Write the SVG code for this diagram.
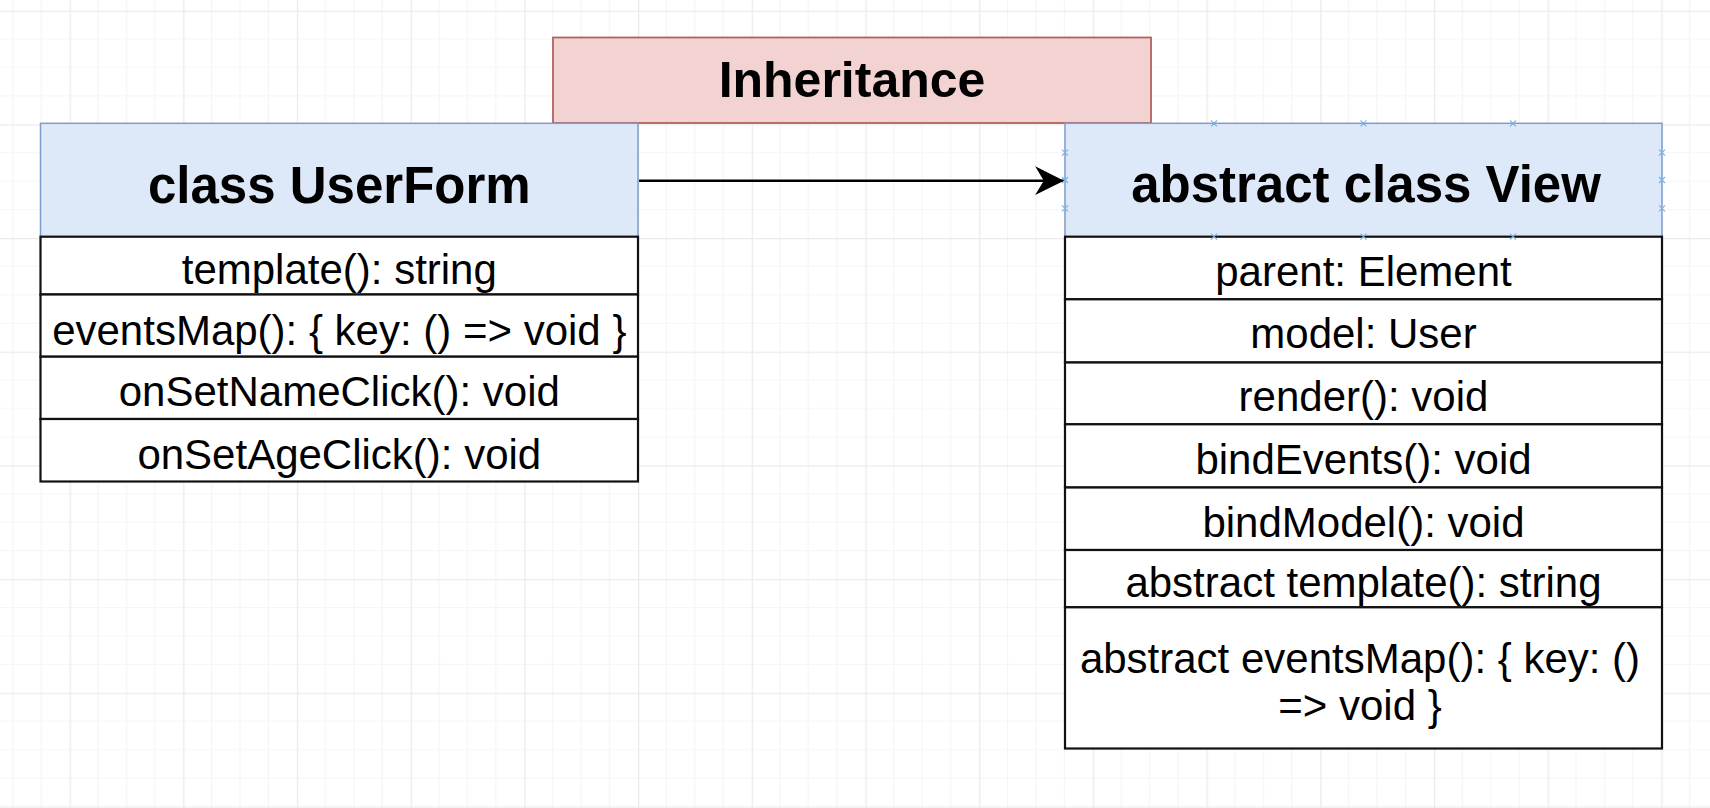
<svg xmlns="http://www.w3.org/2000/svg" width="1710" height="808" viewBox="0 0 1710 808">
  <style>
    .hdr{fill:#dde8f8;stroke:#7f9dca;stroke-width:1.5}
    .row{fill:#ffffff;stroke:#111111;stroke-width:2.2}
    .title{font-family:"Liberation Sans",Arial,sans-serif;font-weight:bold;fill:#000;text-anchor:middle}
    .item{font-family:"Liberation Sans",Arial,sans-serif;font-size:42px;fill:#000;text-anchor:middle}
    .hx{stroke:#7fb3e0;stroke-width:1.2;fill:none}
  </style>
  <defs>
    <pattern id="grid" patternUnits="userSpaceOnUse" x="69.5" y="10.6" width="113.7" height="113.7">
      <path d="M28.43 0V113.7M56.85 0V113.7M85.28 0V113.7M0 28.43H113.7M0 56.85H113.7M0 85.28H113.7" stroke="#f5f5f5" stroke-width="1.2" fill="none"/>
      <path d="M0.6 0V113.7M0 0.6H113.7" stroke="#ebebeb" stroke-width="1.4" fill="none"/>
    </pattern>
    <marker id="arr" markerUnits="userSpaceOnUse" markerWidth="30" markerHeight="30" viewBox="0 0 26 26" refX="25" refY="13" orient="auto">
      <path d="M0 0.5L25 13L0 25.5L7.5 13Z" fill="#000"/>
    </marker>
  </defs>
  <rect width="1710" height="808" fill="#ffffff"/>
  <rect width="1710" height="808" fill="url(#grid)"/>

  <g id="connectors">
    <line x1="639" y1="180.7" x2="1064" y2="180.7" stroke="#000" stroke-width="2.4" marker-end="url(#arr)"/>
  </g>

  <g id="inheritance">
    <rect x="553" y="37.5" width="598" height="85.5" fill="#f2d3d1" stroke="#b0625e" stroke-width="1.8"/>
    <text class="title" x="852" y="96.7" font-size="50">Inheritance</text>
  </g>

  <g id="userform">
    <rect class="hdr" x="40.5" y="123.3" width="597.5" height="113.4"/>
    <text class="title" x="339.3" y="203" font-size="51">class UserForm</text>
    <rect class="row" x="40.5" y="236.7" width="597.5" height="57.8"/>
    <rect class="row" x="40.5" y="294.5" width="597.5" height="62.2"/>
    <rect class="row" x="40.5" y="356.7" width="597.5" height="62.3"/>
    <rect class="row" x="40.5" y="419" width="597.5" height="62.5"/>
    <text class="item" x="339.3" y="284">template(): string</text>
    <text class="item" x="339.3" y="345">eventsMap(): { key: () =&gt; void }</text>
    <text class="item" x="339.3" y="406">onSetNameClick(): void</text>
    <text class="item" x="339.3" y="468.5">onSetAgeClick(): void</text>
  </g>

  <g id="view">
    <rect class="hdr" x="1065" y="123.3" width="597" height="113.4"/>
    <text class="title" x="1366" y="202" font-size="51">abstract class View</text>
    <rect class="row" x="1065" y="236.7" width="597" height="62.6"/>
    <rect class="row" x="1065" y="299.3" width="597" height="63.2"/>
    <rect class="row" x="1065" y="362.5" width="597" height="61.8"/>
    <rect class="row" x="1065" y="424.3" width="597" height="63.2"/>
    <rect class="row" x="1065" y="487.5" width="597" height="62.5"/>
    <rect class="row" x="1065" y="550" width="597" height="57.3"/>
    <rect class="row" x="1065" y="607.3" width="597" height="141.2"/>
    <text class="item" x="1363.5" y="285.5">parent: Element</text>
    <text class="item" x="1363.5" y="348">model: User</text>
    <text class="item" x="1363.5" y="411">render(): void</text>
    <text class="item" x="1363.5" y="473.5">bindEvents(): void</text>
    <text class="item" x="1363.5" y="536.5">bindModel(): void</text>
    <text class="item" x="1363.5" y="596.7">abstract template(): string</text>
    <text class="item" x="1360" y="673">abstract eventsMap(): { key: ()</text>
    <text class="item" x="1360" y="720">=&gt; void }</text>
    <g class="hx">
      <path d="M1211 120.3l6 6M1217 120.3l-6 6M1360.5 120.3l6 6M1366.5 120.3l-6 6M1510 120.3l6 6M1516 120.3l-6 6"/>
      <path d="M1211 233.7l6 6M1217 233.7l-6 6M1360.5 233.7l6 6M1366.5 233.7l-6 6M1510 233.7l6 6M1516 233.7l-6 6"/>
      <path d="M1062 149.7l6 6M1068 149.7l-6 6M1062 177l6 6M1068 177l-6 6M1062 205.3l6 6M1068 205.3l-6 6"/>
      <path d="M1659 149.7l6 6M1665 149.7l-6 6M1659 177l6 6M1665 177l-6 6M1659 205.3l6 6M1665 205.3l-6 6"/>
    </g>
  </g>
</svg>
